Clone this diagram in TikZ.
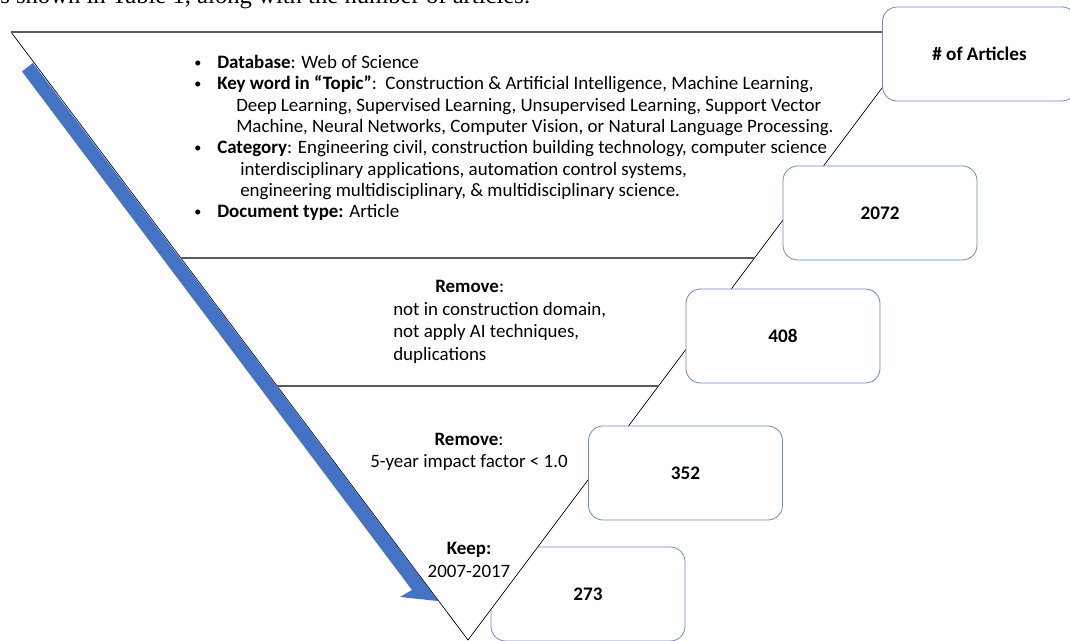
\documentclass[tikz,border=0pt]{standalone}
\usepackage{graphicx}
\usepackage{fontspec}
\setmainfont{Carlito}
\newfontfamily\pageserif{Liberation Serif}
\usetikzlibrary{calc}
\definecolor{arrowblue}{RGB}{68,114,196}
\definecolor{boxline}{RGB}{105,138,198}
\newcommand{\critbullet}{\makebox[20.25pt][l]{\hspace{3pt}\raisebox{0.15ex}{\scalebox{0.75}{\textbullet}}}}

\begin{document}
\begin{tikzpicture}[x=0.75pt, y=-0.75pt, font=\fontsize{14.2}{16}\selectfont,
    numbox/.style = {draw=boxline, line width=0.6pt, fill=white, rounded corners=11pt,
        minimum width=145.5pt, minimum height=70.5pt, font=\fontsize{14.4}{16}\selectfont\bfseries},
    stage/.style = {align=center, inner sep=0pt, font=\fontsize{14.2}{17}\selectfont},
    divider/.style = {line width=1.1pt, black!65}]
    \useasboundingbox (0,0) rectangle (1070,641);
    % text of the page above the figure
    \node[anchor=base west, inner sep=0pt, font=\pageserif\fontsize{18.5}{20}\selectfont] (caption) at (0,4)
        {s shown in Table 1, along with the number of articles.};
    % the last box sits behind the funnel
    \node[numbox] (n273) at (588,594) {273};
    % funnel
    \coordinate (tl) at (11,32);
    \coordinate (tr) at (924,32);
    \coordinate (apex) at (468,640);
    \fill[white] (tl) -- (apex) -- (tr) -- cycle;
    \fill[arrowblue] (33,63) -- (438,601) -- (400,597) -- (412,590) -- (22,71.5) -- cycle;
    \draw[line width=0.5pt] (tl) -- (apex) -- (tr);
    \draw[divider] (tl) -- (tr);
    \draw[divider] ($(apex)!0.628!(tl)$) -- ($(apex)!0.628!(tr)$);
    \draw[divider] ($(apex)!0.418!(tl)$) -- ($(apex)!0.418!(tr)$);
    % stages
    \node[anchor=west, align=left, inner sep=0pt] (criteria) at (190,138) {%
        \critbullet\textbf{Database}: Web of Science\\
        \critbullet\textbf{Key word in “Topic”}:\ \ Construction \& Artificial Intelligence, Machine Learning,\\
        \hspace*{34.5pt}Deep Learning, Supervised Learning, Unsupervised Learning, Support Vector\\
        \hspace*{34.5pt}Machine, Neural Networks, Computer Vision, or Natural Language Processing.\\
        \critbullet\textbf{Category}: Engineering civil, construction building technology, computer science\\
        \hspace*{37.5pt}interdisciplinary applications, automation control systems,\\
        \hspace*{37.5pt}engineering multidisciplinary, \& multidisciplinary science.\\
        \critbullet\textbf{Document type:} Article};
    \node[anchor=west, align=left, inner sep=0pt, font=\fontsize{14.2}{17}\selectfont] (remove1) at (393,322)
        {\hspace*{31.5pt}\textbf{Remove}:\\ not in construction domain,\\ not apply AI techniques,\\ duplications};
    \node[stage] (remove2) at (469,452) {\textbf{Remove}:\\5-year impact factor < 1.0};
    \node[stage] (keep) at (469,560) {\textbf{Keep:}\\2007-2017};
    % number of articles
    \node[numbox] (articles) at (979.5,54) {\# of Articles};
    \node[numbox] (n2072) at (880,213) {2072};
    \node[numbox] (n408) at (783,336) {408};
    \node[numbox] (n352) at (685.5,473) {352};
\end{tikzpicture}
\end{document}
